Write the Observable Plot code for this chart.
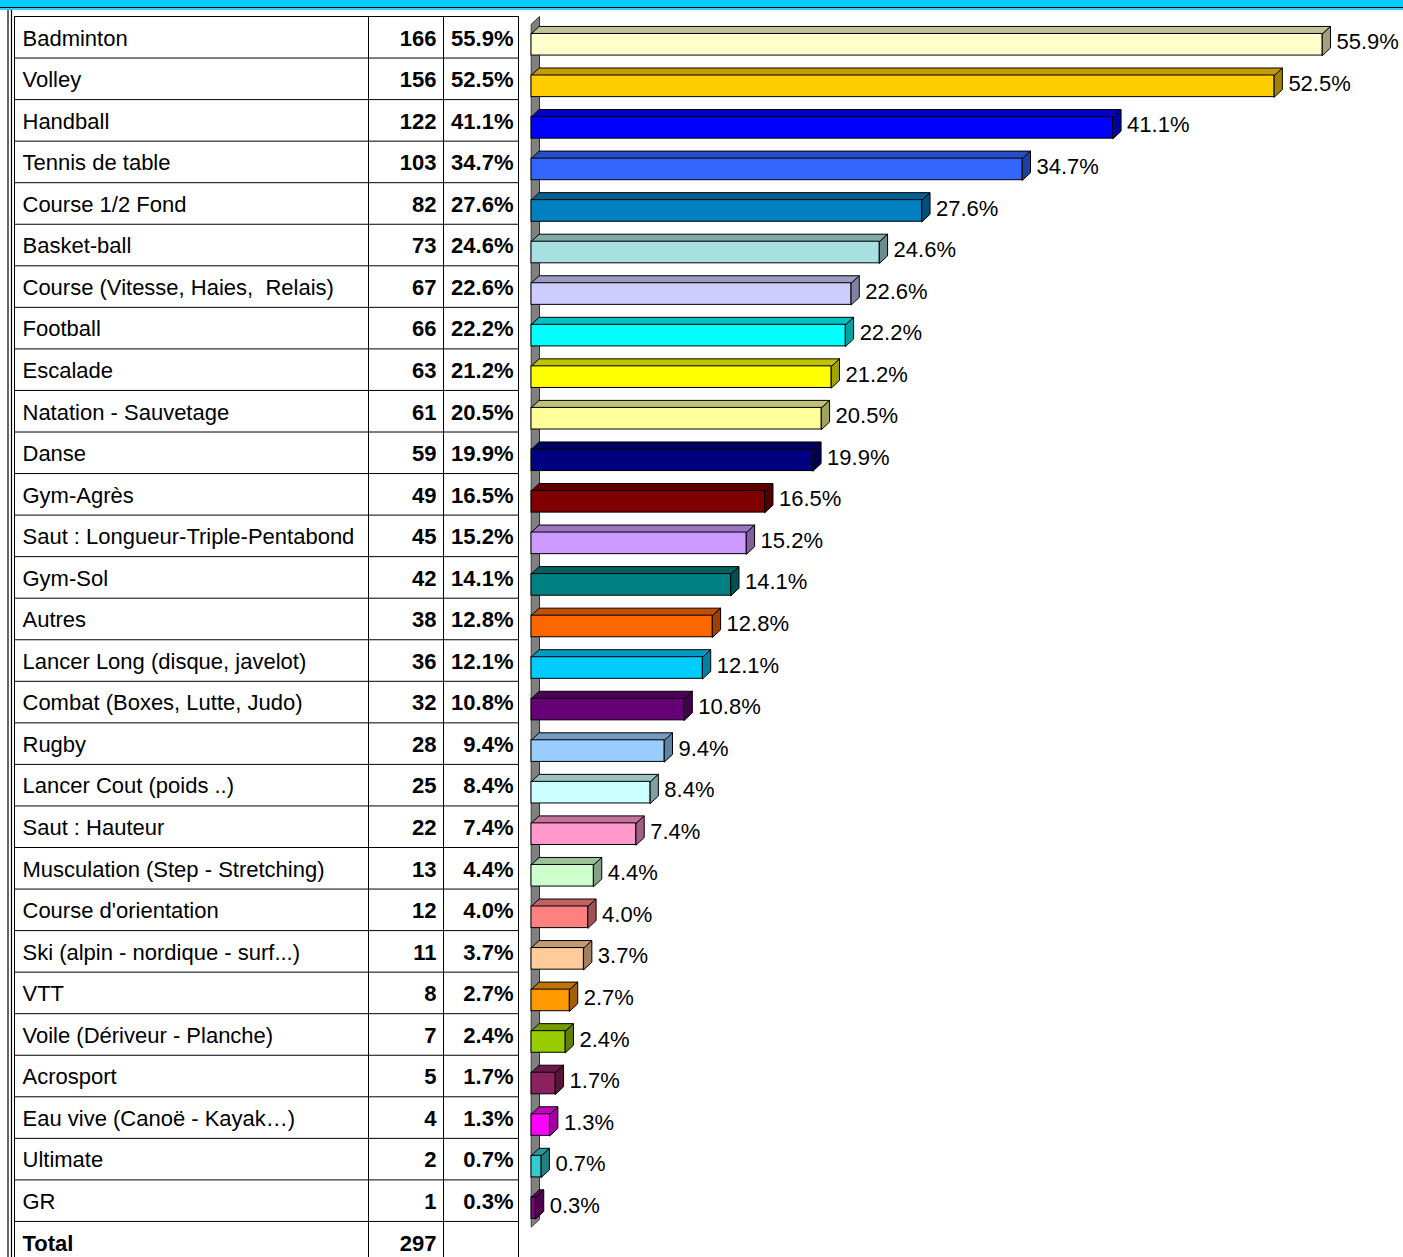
<!DOCTYPE html>
<html><head><meta charset="utf-8">
<script src="https://cdn.jsdelivr.net/npm/d3@7"></script>
<script src="https://cdn.jsdelivr.net/npm/@observablehq/plot@0.6"></script>
<style>
html,body{margin:0;padding:0;background:#fff;overflow:hidden;}
#header{height:7px;background:#00CCFF;border-bottom:1px solid #000;}
#strip{height:2px;background:#33CCFF;}
svg text{white-space:pre;}
</style></head><body>
<div id="header"></div><div id="strip"></div>
<div id="chart"></div>
<script>
const sports = [
  "Badminton","Volley","Handball","Tennis de table","Course 1/2 Fond","Basket-ball",
  "Course (Vitesse, Haies,  Relais)","Football","Escalade","Natation - Sauvetage","Danse",
  "Gym-Agrès","Saut : Longueur-Triple-Pentabond","Gym-Sol","Autres","Lancer Long (disque, javelot)",
  "Combat (Boxes, Lutte, Judo)","Rugby","Lancer Cout (poids ..)","Saut : Hauteur",
  "Musculation (Step - Stretching)","Course d'orientation","Ski (alpin - nordique - surf...)",
  "VTT","Voile (Dériveur - Planche)","Acrosport","Eau vive (Canoë - Kayak…)","Ultimate","GR"
];
const counts = [166,156,122,103,82,73,67,66,63,61,59,49,45,42,38,36,32,28,25,22,13,12,11,8,7,5,4,2,1];
const percents = [55.9,52.5,41.1,34.7,27.6,24.6,22.6,22.2,21.2,20.5,19.9,16.5,15.2,14.1,12.8,12.1,10.8,9.4,8.4,7.4,4.4,4.0,3.7,2.7,2.4,1.7,1.3,0.7,0.3];
const colors = [
  "#FFFFCC","#FFCC00","#0000FF","#3366FF","#0080C0","#A6E0E0","#CCCCFF","#00FFFF","#FFFF00",
  "#FFFF99","#000080","#800000","#CC99FF","#008080","#FF6600","#00CCFF","#660077","#99CCFF",
  "#CCFFFF","#FF99CC","#CCFFCC","#FF8080","#FFCC99","#FF9900","#99CC00","#8B2260","#FF00FF",
  "#33CCCC","#800080"
];
const totalLabel = "Total";
const totalCount = 297;

// layout (pixels)
const W = 1403, H = 1247;
const nSports = sports.length;
const nRows = nSports + 1;
const rowH = 41.55, tableTop = 6;
const tableLeft = 14, colA = 368, colB = 443, tableRight = 518;
const xLeft = 531, pxPerPct = 14.15;
const depthPx = 8, depthPy = 7.5;
const dX = depthPx / pxPerPct, dY = depthPy / rowH;
const f0 = 0.42, f1 = 0.94;
const textRow = 0.53;
const font = "Liberation Sans, Arial, sans-serif";

function shade(c, k) {
  const r = d3.rgb(c);
  return d3.rgb(r.r * k, r.g * k, r.b * k).formatHex();
}

const rows = sports.map((name, i) => ({i, name, count: counts[i], pct: percents[i], color: colors[i]}));
const xMax = d3.max(percents);

const tops = rows.flatMap(d => [[0, d.i+f0],[d.pct, d.i+f0],[d.pct+dX, d.i+f0-dY],[dX, d.i+f0-dY]]
  .map(([x, y]) => ({id: d.i, x, y, fill: shade(d.color, 0.76)})));
const sides = rows.flatMap(d => [[d.pct, d.i+f0],[d.pct+dX, d.i+f0-dY],[d.pct+dX, d.i+f1-dY],[d.pct, d.i+f1]]
  .map(([x, y]) => ({id: d.i, x, y, fill: shade(d.color, 0.63)})));
const wallBottom = nSports - 0.05;
const wall = [{x: 0, y: dY}, {x: dX, y: 0}, {x: dX, y: wallBottom}, {x: 0, y: wallBottom + dY}];

const chart = Plot.plot({
  width: W, height: H,
  marginLeft: tableLeft, marginRight: W - tableRight, marginTop: 0, marginBottom: 0,
  style: {fontFamily: font, background: "white", overflow: "visible"},
  x: {domain: [0, xMax], range: [xLeft, xLeft + xMax * pxPerPct], axis: null},
  y: {domain: [0, nRows], range: [tableTop, tableTop + nRows * rowH], axis: null},
  color: {type: "identity"},
  marks: [
    // outer double frame lines
    Plot.ruleX([0], {dx: 7.5 - xLeft, stroke: "#000", strokeWidth: 1.2}),
    Plot.ruleX([0], {dx: 11 - xLeft, stroke: "#000", strokeWidth: 1.2}),
    // table grid
    Plot.ruleY(d3.range(nRows + 1), {stroke: "#000", strokeWidth: 1}),
    Plot.ruleX([0], {y1: 0, y2: nRows, dx: tableLeft - xLeft, stroke: "#000"}),
    Plot.ruleX([0], {y1: 0, y2: nRows, dx: colA - xLeft, stroke: "#000"}),
    Plot.ruleX([0], {y1: 0, y2: nRows, dx: colB - xLeft, stroke: "#000"}),
    Plot.ruleX([0], {y1: 0, y2: nRows, dx: tableRight - xLeft, stroke: "#000"}),
    // table text
    Plot.text(rows, {y: d => d.i + textRow, text: "name", frameAnchor: "left", dx: 22 - tableLeft, textAnchor: "start", fontSize: 22}),
    Plot.text(rows, {y: d => d.i + textRow, text: d => String(d.count), frameAnchor: "left", dx: 436 - tableLeft, textAnchor: "end", fontSize: 22, fontWeight: "bold"}),
    Plot.text(rows, {y: d => d.i + textRow, text: d => d.pct.toFixed(1) + "%", frameAnchor: "left", dx: 513 - tableLeft, textAnchor: "end", fontSize: 22, fontWeight: "bold"}),
    Plot.text([totalLabel], {y: () => nSports + textRow, text: d => d, frameAnchor: "left", dx: 22 - tableLeft, textAnchor: "start", fontSize: 22, fontWeight: "bold"}),
    Plot.text([totalCount], {y: () => nSports + textRow, text: d => String(d), frameAnchor: "left", dx: 436 - tableLeft, textAnchor: "end", fontSize: 22, fontWeight: "bold"}),
    // 3D wall
    Plot.line(wall, {x: "x", y: "y", fill: "#808080", stroke: "#303030", strokeWidth: 1, curve: "linear-closed"}),
    // 3D bars
    Plot.line(tops, {x: "x", y: "y", z: "id", fill: "fill", stroke: "#000", strokeWidth: 1, curve: "linear-closed"}),
    Plot.line(sides, {x: "x", y: "y", z: "id", fill: "fill", stroke: "#000", strokeWidth: 1, curve: "linear-closed"}),
    Plot.rect(rows, {x1: () => 0, x2: "pct", y1: d => d.i + f0, y2: d => d.i + f1, fill: "color", stroke: "#000", strokeWidth: 1}),
    // value labels
    Plot.text(rows, {x: d => d.pct + dX, y: d => d.i + 0.62, text: d => d.pct.toFixed(1) + "%", dx: 6, textAnchor: "start", fontSize: 22})
  ]
});
document.getElementById("chart").appendChild(chart);
</script>
</body></html>
